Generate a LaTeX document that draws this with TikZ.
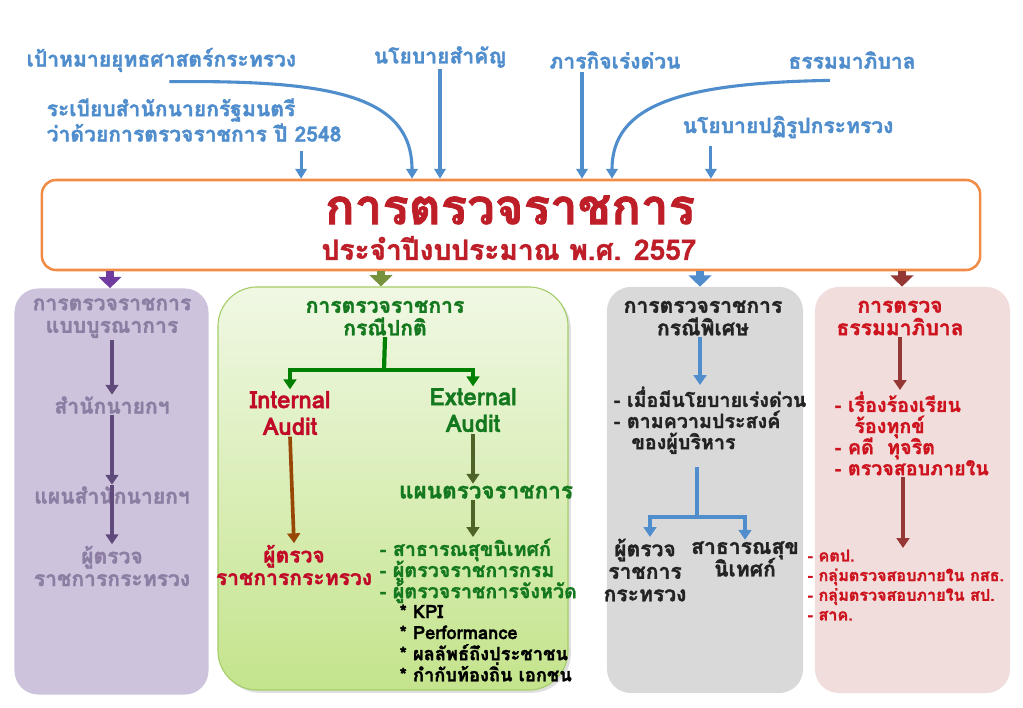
\documentclass[tikz,border=0pt]{standalone}
\usepackage{fontspec}
\setmainfont{Loma}[Script=Thai, BoldFeatures={FakeBold=1.5}]
\usetikzlibrary{
  arrows.meta,
  calc,
  positioning,
  shadows,
}
\newcommand{\tightlines}{\lineskiplimit=-20pt\relax}
\definecolor{topblue}{RGB}{79,141,205}
\definecolor{frameorange}{RGB}{240,140,70}
\definecolor{titlered}{RGB}{190,30,40}
\definecolor{purplebox}{RGB}{205,195,220}
\definecolor{purpletext}{RGB}{140,125,162}
\definecolor{purplearrow}{RGB}{96,74,123}
\definecolor{headpurple}{RGB}{112,60,160}
\definecolor{greenframe}{RGB}{165,205,105}
\definecolor{greentop}{RGB}{240,248,228}
\definecolor{greenbottom}{RGB}{196,228,140}
\definecolor{greentext}{RGB}{20,120,30}
\definecolor{greenline}{RGB}{0,128,0}
\definecolor{olivearrow}{RGB}{79,98,40}
\definecolor{headgreen}{RGB}{118,146,60}
\definecolor{brownarrow}{RGB}{152,72,6}
\definecolor{auditred}{RGB}{192,10,40}
\definecolor{graybox}{RGB}{217,217,217}
\definecolor{graytext}{RGB}{35,35,35}
\definecolor{pinkbox}{RGB}{242,221,221}
\definecolor{pinktext}{RGB}{205,20,30}
\definecolor{darkredarrow}{RGB}{149,55,53}
\tikzset{
  top_label/.style={
    text=topblue,
    font=\bfseries\fontsize{15}{18}\selectfont,
    inner sep=1pt
  },
  main_frame/.style={
    rectangle,
    rounded corners=10pt,
    draw=frameorange,
    line width=1.8pt,
    fill=white,
    minimum width=23.45cm,
    minimum height=2.25cm
  },
  col_box/.style={
    rectangle,
    rounded corners=17pt,
    minimum width=4.85cm,
    minimum height=10.15cm
  },
  box_text/.style={
    align=center,
    font=\bfseries\fontsize{15}{16}\selectfont\tightlines,
    inner sep=1pt
  },
  list_text/.style={
    align=left,
    font=\bfseries\fontsize{14}{15}\selectfont\tightlines,
    inner sep=1pt
  },
  top_arrow/.style={
    line width=2.2pt,
    draw=topblue,
    -{Triangle[length=7pt, width=8pt]}
  },
  feed_arrow/.style={
    line width=6pt,
    -{Triangle[length=8pt, width=16pt]}
  },
  step_arrow/.style={
    line width=2.6pt,
    -{Triangle[length=7pt, width=9pt]}
  },
}

\begin{document}
\begin{tikzpicture}[x=0.025cm, y=-0.025cm]
  \path[use as bounding box, fill=white] (0,0) rectangle (1023,708);

  % Sources
  \node (goal) [top_label, anchor=west] at (25,60) {เป้าหมายยุทธศาสตร์กระทรวง};
  \node (policy) [top_label] at (440,57) {นโยบายสำคัญ};
  \node (urgent) [top_label] at (615,60) {ภารกิจเร่งด่วน};
  \node (govern) [top_label] at (852,60) {ธรรมมาภิบาล};
  \node (rule) [top_label, anchor=west, align=left] at (45,120) {ระเบียบสำนักนายกรัฐมนตรี\\ว่าด้วยการตรวจราชการ ปี 2548};
  \node (reform) [top_label] at (788,127) {นโยบายปฏิรูปกระทรวง};

  \coordinate (goal_out) at ($(goal.south)+(8,8)$);
  \coordinate (rule_out) at ($(rule.south east)+(-42,8)$);
  \coordinate (urgent_out) at ($(urgent.south)+(-33,2)$);
  \coordinate (govern_out) at ($(govern.south)+(-22,10)$);
  \coordinate (reform_out) at ($(reform.south west)+(30,6)$);

  % Main frame
  \node (main) [main_frame] at (511,225) {};
  \node (title) [text=titlered, font=\bfseries\fontsize{35}{38}\selectfont] at (510,210) {การตรวจราชการ};
  \node (year) [text=titlered, font=\bfseries\fontsize{20}{22}\selectfont] at (509,248) {ประจำปีงบประมาณ พ.ศ. 2557};

  \draw [top_arrow] (goal_out) .. controls (330,80) and (412,95) .. (412,0 |- main.north);
  \draw [top_arrow] (policy.south) -- (policy.south |- main.north);
  \draw [top_arrow] (rule_out) -- (rule_out |- main.north);
  \draw [top_arrow] (urgent_out) -- (urgent_out |- main.north);
  \draw [top_arrow] (govern_out) .. controls (680,83) and (612,105) .. (612,0 |- main.north);
  \draw [top_arrow] (reform_out) -- (reform_out |- main.north);

  % Columns
  \node (integ) [col_box, fill=purplebox] at (111.5,491.5) {};
  \node (normal) [col_box, rounded corners=28pt, draw=greenframe, line width=0.8pt,
    top color=greentop, bottom color=greenbottom,
    drop shadow={opacity=0.25, shadow xshift=2pt, shadow yshift=-2pt},
    minimum width=8.75cm, minimum height=10.075cm] at (393,488.5) {};
  \node (special) [col_box, fill=graybox, minimum width=4.9cm] at (705,490) {};
  \node (ethics) [col_box, fill=pinkbox, minimum width=4.875cm] at (912.5,490) {};

  \draw [feed_arrow, headpurple] (110,0 |- main.south) -- (110,0 |- integ.north);
  \draw [feed_arrow, headgreen] (381,0 |- main.south) -- (381,0 |- normal.north);
  \draw [feed_arrow, topblue] (700,0 |- main.south) -- (700,0 |- special.north);
  \draw [feed_arrow, darkredarrow] (902,0 |- main.south) -- (902,0 |- ethics.north);

  % Integrated audit
  \node (p_head) [box_text, text=purpletext] at (112,318) {การตรวจราชการ\\แบบบูรณาการ};
  \node (p_office) [box_text, text=purpletext] at (112,405) {สำนักนายกฯ};
  \node (p_plan) [box_text, text=purpletext] at (112,495) {แผนสำนักนายกฯ};
  \node (p_insp) [box_text, text=purpletext] at (112,566) {ผู้ตรวจ\\ราชการกระทรวง};
  \draw [step_arrow, purplearrow] (p_head) -- (p_office);
  \draw [step_arrow, purplearrow] (p_office) -- (p_plan);
  \draw [step_arrow, purplearrow] (p_plan.north) -- (p_insp.north);

  % Normal audit
  \node (g_head) [box_text, text=greentext] at (385,318) {การตรวจราชการ\\กรณีปกติ};
  \node (internal) [box_text, text=auditred, font=\bfseries\fontsize{17}{19}\selectfont] at (290,413) {Internal\\Audit};
  \node (external) [box_text, text=greentext, font=\bfseries\fontsize{17}{19}\selectfont] at (473,410) {External\\Audit};
  \node (g_plan) [box_text, text=greentext, font=\bfseries\fontsize{16}{18}\selectfont] at (486,492) {แผนตรวจราชการ};
  \node (g_insp) [box_text, text=auditred] at (294,565) {ผู้ตรวจ\\ราชการกระทรวง};
  \node (g_list) [list_text, text=greentext, anchor=north west] at (378,537) {- สาธารณสุขนิเทศก์\\- ผู้ตรวจราชการกรม\\- ผู้ตรวจราชการจังหวัด};
  \node (g_sub) [list_text, text=black, anchor=north west, font=\bfseries\fontsize{13}{15}\selectfont\tightlines] at (398,603) {* KPI\\* Performance\\* ผลลัพธ์ถึงประชาชน\\* กำกับท้องถิ่น เอกชน};
  \coordinate (g_fork) at (384,370);

  \draw [line width=3pt, greenline] (g_head.south) -- (g_fork);
  \draw [step_arrow, greenline] (g_fork) -| (internal.north);
  \draw [step_arrow, greenline] (g_fork) -| (external.north);
  \draw [step_arrow, brownarrow] (internal.south) -- (g_insp.north);
  \draw [step_arrow, olivearrow] (external.south) -- (g_plan.north -| external.south);
  \draw [step_arrow, olivearrow] (g_plan.south -| external.south) -- (g_list.north -| external.south);

  % Special audit
  \node (s_head) [box_text, text=graytext] at (703,318) {การตรวจราชการ\\กรณีพิเศษ};
  \node (s_list) [list_text, text=graytext, anchor=north west] at (612,385) {- เมื่อมีนโยบายเร่งด่วน\\- ตามความประสงค์\\\hspace*{0.9em}ของผู้บริหาร};
  \node (s_insp) [box_text, text=graytext] at (645,570) {ผู้ตรวจ\\ราชการ\\กระทรวง};
  \node (s_pub) [box_text, text=graytext] at (745,559) {สาธารณสุข\\นิเทศก์};
  \coordinate (s_fork) at (697,517);

  \draw [step_arrow, topblue] (s_head.south -| 700,0) -- (s_list.north -| 700,0);
  \draw [line width=3pt, topblue] ([yshift=-8pt]s_list.south -| s_fork) -- (s_fork);
  \draw [step_arrow, topblue] (s_fork) -| (650,0 |- s_insp.north);
  \draw [step_arrow, topblue] (s_fork) -| (s_pub.north);

  % Good governance audit
  \node (r_head) [box_text, text=pinktext] at (900,318) {การตรวจ\\ธรรมมาภิบาล};
  \node (r_list) [list_text, text=pinktext, anchor=north west] at (833,390) {- เรื่องร้องเรียน\\\hspace*{1em}ร้องทุกข์\\- คดี\ \ ทุจริต\\- ตรวจสอบภายใน};
  \node (r_unit) [list_text, text=pinktext, anchor=north west, font=\bfseries\fontsize{11.5}{14}\selectfont\tightlines] at (806,548) {- คตป.\\- กลุ่มตรวจสอบภายใน กสธ.\\- กลุ่มตรวจสอบภายใน สป.\\- สาค.};

  \draw [step_arrow, darkredarrow] (r_head.south) -- (r_head.south |- r_list.north);
  \draw [step_arrow, darkredarrow] (r_list.south -| 903,0) -- (r_unit.north -| 903,0);

\end{tikzpicture}
\end{document}
